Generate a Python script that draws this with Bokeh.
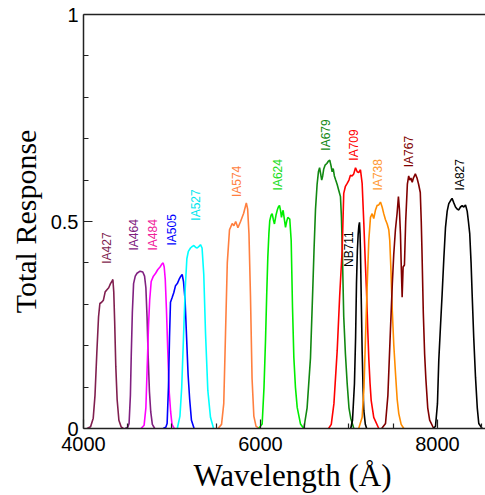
from math import pi
from bokeh.plotting import figure
from bokeh.models import Range1d, FixedTicker, LinearAxis, Title, NumeralTickFormatter, ColumnDataSource
from bokeh.core.properties import value
from bokeh.embed import file_html
from bokeh.resources import INLINE

# ---- filter response curves (wavelength in Angstrom, total response) ----
ia427_wl = [4040, 4080, 4110, 4130, 4150, 4170, 4185, 4205, 4225, 4245, 4265, 4285, 4305, 4320, 4332, 4342, 4352, 4365, 4380, 4400, 4425, 4450]
ia427_r = [0.0, 0.004, 0.025, 0.08, 0.18, 0.27, 0.302, 0.305, 0.31, 0.33, 0.335, 0.34, 0.35, 0.355, 0.36, 0.33, 0.26, 0.15, 0.07, 0.02, 0.004, 0.0]

ia464_wl = [4470, 4500, 4515, 4530, 4540, 4552, 4566, 4585, 4605, 4640, 4670, 4690, 4705, 4718, 4730, 4745, 4760, 4778, 4805]
ia464_r = [0.0, 0.003, 0.012, 0.08, 0.18, 0.28, 0.35, 0.368, 0.375, 0.38, 0.378, 0.368, 0.34, 0.27, 0.18, 0.09, 0.04, 0.01, 0.0]

ia484_wl = [4650, 4685, 4705, 4720, 4735, 4748, 4765, 4790, 4815, 4840, 4865, 4885, 4900, 4912, 4924, 4937, 4952, 4968, 4985, 5000, 5025]
ia484_r = [0.0, 0.008, 0.05, 0.15, 0.25, 0.31, 0.355, 0.368, 0.375, 0.384, 0.39, 0.397, 0.40, 0.39, 0.36, 0.29, 0.19, 0.09, 0.04, 0.01, 0.0]

ia505_wl = [4900, 4930, 4945, 4960, 4972, 4983, 5000, 5020, 5040, 5060, 5080, 5100, 5115, 5130, 5148, 5165, 5182, 5200, 5220, 5250]
ia505_r = [0.0, 0.003, 0.012, 0.10, 0.22, 0.305, 0.315, 0.328, 0.345, 0.35, 0.36, 0.368, 0.372, 0.355, 0.31, 0.22, 0.13, 0.07, 0.02, 0.0]

ia527_wl = [5060, 5090, 5110, 5130, 5150, 5168, 5185, 5209, 5230, 5247, 5265, 5285, 5305, 5322, 5340, 5359, 5379, 5405, 5435, 5470]
ia527_r = [0.0, 0.03, 0.10, 0.22, 0.34, 0.41, 0.428, 0.436, 0.44, 0.442, 0.438, 0.436, 0.44, 0.444, 0.436, 0.373, 0.23, 0.092, 0.027, 0.0]

ia574_wl = [5520, 5560, 5585, 5605, 5625, 5650, 5680, 5700, 5720, 5745, 5775, 5810, 5840, 5855, 5870, 5887, 5905, 5925, 5950, 5990]
ia574_r = [0.0, 0.01, 0.06, 0.23, 0.40, 0.48, 0.495, 0.49, 0.50, 0.485, 0.50, 0.52, 0.545, 0.53, 0.47, 0.32, 0.12, 0.03, 0.005, 0.0]

ia624_wl = [5980, 6019, 6040, 6057, 6070, 6083, 6095, 6105, 6120, 6132, 6145, 6158, 6175, 6189, 6202, 6215, 6228, 6237, 6247, 6256, 6270, 6283, 6296, 6309, 6331, 6347, 6362, 6377, 6395, 6415, 6452, 6490]
ia624_r = [0.0, 0.011, 0.10, 0.213, 0.32, 0.414, 0.47, 0.502, 0.515, 0.519, 0.505, 0.494, 0.515, 0.527, 0.535, 0.539, 0.525, 0.51, 0.52, 0.527, 0.505, 0.486, 0.50, 0.51, 0.506, 0.454, 0.293, 0.172, 0.10, 0.051, 0.011, 0.0]

ia679_wl = [6490, 6527, 6565, 6590, 6605, 6622, 6640, 6655, 6668, 6680, 6692, 6703, 6715, 6730, 6750, 6765, 6783, 6797, 6810, 6822, 6835, 6850, 6866, 6885, 6904, 6915, 6925, 6941, 6960, 6980, 7000, 7020, 7055]
ia679_r = [0.0, 0.05, 0.17, 0.33, 0.43, 0.53, 0.59, 0.62, 0.63, 0.615, 0.60, 0.61, 0.627, 0.636, 0.64, 0.645, 0.648, 0.635, 0.62, 0.628, 0.61, 0.60, 0.59, 0.575, 0.56, 0.51, 0.43, 0.27, 0.18, 0.108, 0.05, 0.025, 0.0]

ia709_wl = [6770, 6800, 6830, 6867, 6895, 6923, 6941, 6960, 6980, 7000, 7017, 7035, 7054, 7074, 7093, 7110, 7130, 7149, 7168, 7183, 7198, 7212, 7224, 7238, 7251, 7280, 7337]
ia709_r = [0.0, 0.01, 0.06, 0.188, 0.32, 0.43, 0.568, 0.585, 0.592, 0.60, 0.612, 0.61, 0.615, 0.63, 0.62, 0.618, 0.625, 0.592, 0.495, 0.41, 0.333, 0.24, 0.17, 0.11, 0.068, 0.027, 0.0]

nb711_wl = [7020, 7040, 7062, 7075, 7085, 7095, 7104, 7112, 7119, 7125, 7130, 7140, 7149, 7160, 7168, 7185, 7200]
nb711_r = [0.0, 0.02, 0.108, 0.22, 0.35, 0.43, 0.469, 0.49, 0.498, 0.47, 0.43, 0.30, 0.188, 0.09, 0.043, 0.01, 0.0]

ia738_wl = [7110, 7149, 7170, 7186, 7205, 7224, 7243, 7262, 7280, 7299, 7319, 7337, 7356, 7375, 7393, 7412, 7432, 7450, 7461, 7475, 7488, 7507, 7526, 7545, 7563, 7590, 7620]
ia738_r = [0.0, 0.027, 0.10, 0.213, 0.34, 0.454, 0.51, 0.519, 0.507, 0.527, 0.539, 0.54, 0.547, 0.535, 0.519, 0.505, 0.494, 0.48, 0.454, 0.38, 0.293, 0.2, 0.133, 0.07, 0.036, 0.01, 0.0]

ia767_wl = [7370, 7413, 7440, 7469, 7490, 7506, 7525, 7544, 7559, 7570, 7582, 7590, 7601, 7612, 7627, 7641, 7660, 7675, 7688, 7700, 7715, 7728, 7740, 7750, 7769, 7787, 7806, 7817, 7825, 7840, 7855, 7869, 7890, 7912, 7958]
ia767_r = [0.0, 0.012, 0.08, 0.24, 0.35, 0.42, 0.48, 0.52, 0.56, 0.53, 0.47, 0.40, 0.317, 0.39, 0.395, 0.50, 0.59, 0.61, 0.60, 0.605, 0.595, 0.605, 0.61, 0.615, 0.605, 0.59, 0.57, 0.50, 0.43, 0.28, 0.18, 0.12, 0.05, 0.02, 0.0]

ia827_wl = [7950, 7978, 8000, 8015, 8035, 8053, 8072, 8091, 8110, 8128, 8147, 8165, 8185, 8204, 8222, 8241, 8260, 8279, 8298, 8317, 8336, 8350, 8365, 8380, 8392, 8410, 8430, 8450, 8467, 8505]
ia827_r = [0.0, 0.005, 0.06, 0.164, 0.25, 0.325, 0.41, 0.486, 0.525, 0.543, 0.55, 0.556, 0.545, 0.535, 0.53, 0.528, 0.535, 0.538, 0.535, 0.54, 0.525, 0.50, 0.47, 0.40, 0.325, 0.22, 0.124, 0.05, 0.012, 0.0]

curve_names = ["IA427", "IA464", "IA484", "IA505", "IA527", "IA574", "IA624", "IA679", "IA709", "NB711", "IA738", "IA767", "IA827"]
curve_wl = [ia427_wl, ia464_wl, ia484_wl, ia505_wl, ia527_wl, ia574_wl, ia624_wl, ia679_wl, ia709_wl, nb711_wl, ia738_wl, ia767_wl, ia827_wl]
curve_r = [ia427_r, ia464_r, ia484_r, ia505_r, ia527_r, ia574_r, ia624_r, ia679_r, ia709_r, nb711_r, ia738_r, ia767_r, ia827_r]
curve_colors = ["#801F4F", "#802080", "#FF00FF", "#0000FF", "#00FFFF", "#FF7F3F", "#00EE00", "#118811", "#FF0000", "#000000", "#FF8C00", "#800000", "#000000"]

# label anchors (bottom of the vertical text)
label_text = ["IA427", "IA464", "IA484", "IA505", "IA527", "IA574", "IA624", "IA679", "IA709", "NB711", "IA738", "IA767", "IA827"]
label_wl = [4268, 4568, 4788, 5002, 5266, 5737, 6198, 6735, 7062, 6998, 7330, 7676, 8260]
label_r = [0.398, 0.43, 0.43, 0.442, 0.502, 0.559, 0.575, 0.671, 0.647, 0.39, 0.575, 0.631, 0.575]
label_colors = ["#801F4F", "#802080", "#F0209A", "#0000FF", "#00E5EE", "#FF7F3F", "#22DD22", "#118811", "#FF0000", "#000000", "#FF9933", "#800000", "#000000"]

x_major_ticks = [4000, 6000, 8000]
x_minor_ticks = [4500, 5000, 5500, 6500, 7000, 7500, 8500]
y_major_ticks = [0, 0.5, 1]
y_minor_ticks = [0.1, 0.2, 0.3, 0.4, 0.6, 0.7, 0.8, 0.9]

p = figure(width=485, height=495, output_backend="svg", toolbar_location=None,
           x_range=Range1d(4000, 8543), y_range=Range1d(0, 1),
           min_border_left=83, min_border_right=0, min_border_top=14, min_border_bottom=67)
p.outline_line_color = None
p.grid.visible = False
p.background_fill_color = "white"
p.border_fill_color = "white"

ink = "#222222"
for ax in (p.below[0], p.left[0]):
    ax.axis_line_color = ink
    ax.axis_line_width = 1.5
    ax.major_tick_in = 9
    ax.major_tick_out = 0
    ax.minor_tick_in = 5
    ax.minor_tick_out = 0
    ax.major_tick_line_color = ink
    ax.minor_tick_line_color = ink
    ax.major_tick_line_width = 1.2
    ax.minor_tick_line_width = 1.2
    ax.major_label_text_font = "Liberation Sans"
    ax.major_label_text_font_size = "20px"
    ax.major_label_text_color = "black"

p.below[0].ticker = FixedTicker(ticks=x_major_ticks, minor_ticks=x_minor_ticks)
p.left[0].ticker = FixedTicker(ticks=y_major_ticks, minor_ticks=y_minor_ticks)
p.left[0].formatter = NumeralTickFormatter(format="0.[0]")
p.below[0].major_label_standoff = 8
p.left[0].major_label_standoff = 5

p.left[0].axis_label = "Total Response"
p.left[0].axis_label_text_font = "Liberation Serif"
p.left[0].axis_label_text_font_size = "30px"
p.left[0].axis_label_text_font_style = "normal"
p.left[0].axis_label_text_color = "black"
p.left[0].axis_label_standoff = 6

top = LinearAxis(ticker=FixedTicker(ticks=[]), axis_line_color=ink, axis_line_width=1.5,
                 major_tick_in=0, major_tick_out=0, minor_tick_in=0, minor_tick_out=0,
                 major_label_standoff=0, major_label_text_font_size="0px")
p.add_layout(top, "above")

xtitle = Title(text="Wavelength (Å)", align="left", offset=110, text_font="Liberation Serif",
               text_font_size="31px", text_font_style="normal", text_color="black", standoff=4)
p.add_layout(xtitle, "below")

for wl, r, c in zip(curve_wl, curve_r, curve_colors):
    p.line(wl, r, line_color=c, line_width=1.6)

src = ColumnDataSource(dict(x=label_wl, y=label_r, text=label_text, color=label_colors))
p.text(x="x", y="y", text="text", text_color="color", source=src, angle=pi / 2,
       text_align="left", text_baseline="middle",
       text_font=value("Liberation Sans"), text_font_size="12px")

open("out.html", "w").write(file_html(p, INLINE))
